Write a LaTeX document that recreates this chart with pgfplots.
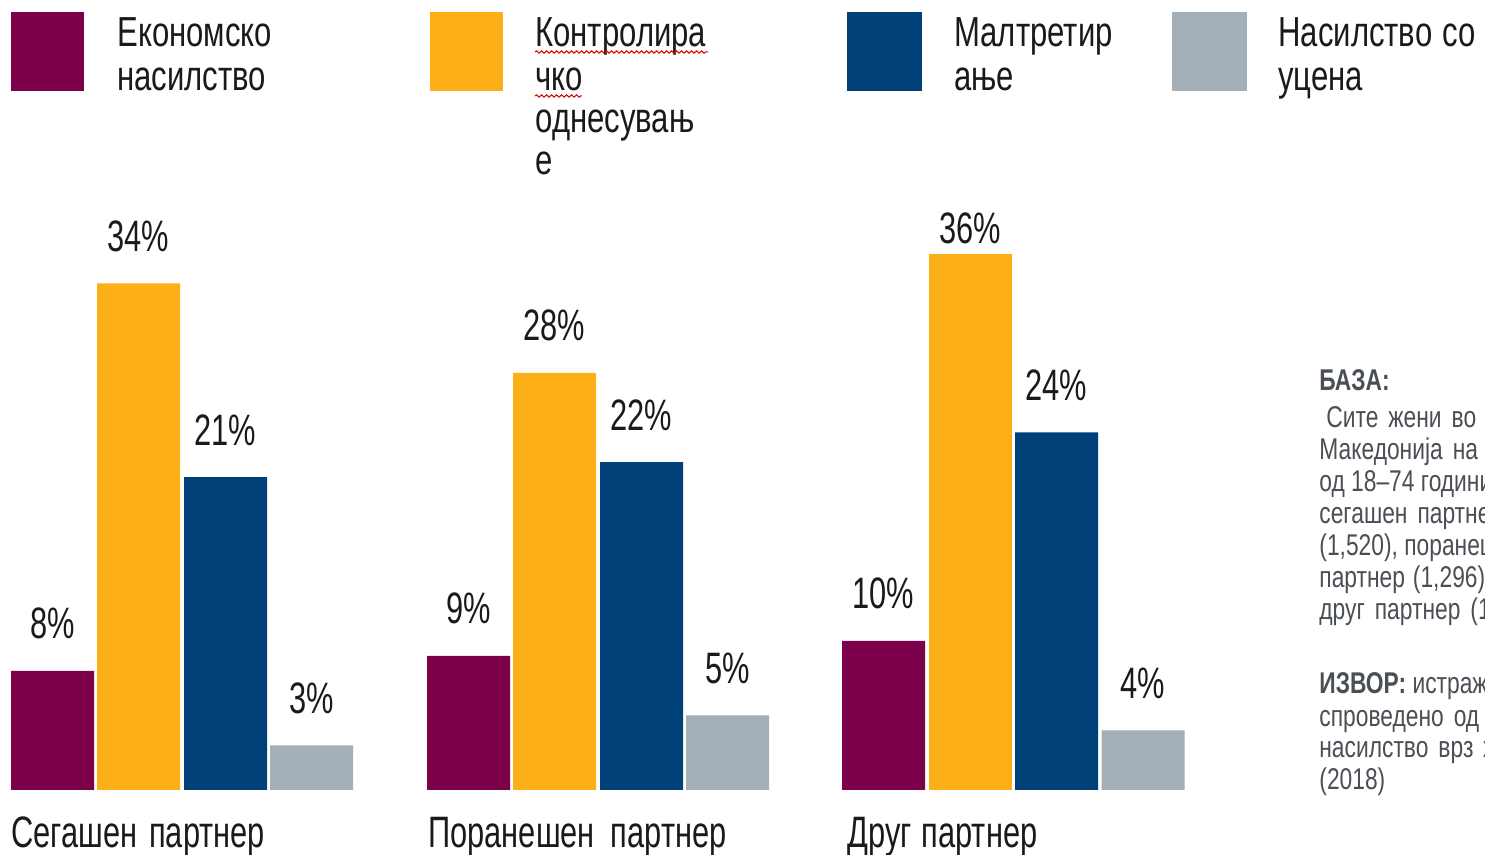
\documentclass[border=0pt]{standalone}
\usepackage{fontspec}
\setmainfont{Liberation Sans}[FakeStretch=0.7]
\newfontfamily\legfont{Liberation Sans}[FakeStretch=0.74]
\newfontfamily\sidefont{Liberation Sans}[FakeStretch=0.76]
\usepackage{pgfplots}
\pgfplotsset{compat=1.18}
\usetikzlibrary{decorations.pathmorphing}
\definecolor{econ}{HTML}{7D004A}
\definecolor{ctrl}{HTML}{FCAF17}
\definecolor{malt}{HTML}{00417A}
\definecolor{ucen}{HTML}{A5AFB7}
\definecolor{txt}{HTML}{1A1A1A}
\definecolor{side}{HTML}{4A4F55}
\begin{document}
\begin{tikzpicture}
\path[use as bounding box] (0,0) rectangle (742.5pt,-427.5pt);
\clip (0,0) rectangle (742.5pt,-427.5pt);
\begin{axis}[
  at={(0pt,-395pt)}, anchor=south west,
  scale only axis, width=742.5pt, height=372.5pt,
  xmin=0, xmax=1485, ymin=0, ymax=50,
  axis lines=none, clip=false,
  /pgf/number format/assume math mode=true,
  ybar, bar width=41.5pt, bar shift=0pt,
  nodes near coords={\pgfmathprintnumber{\pgfplotspointmeta}\%},
  every node near coord/.append style={font=\fontsize{22}{26}\selectfont, text=txt, anchor=base, yshift=16pt},
]
\addplot[fill=econ, draw=none] coordinates {(52.5,8) (468.5,9) (883.5,10)};
\addplot[fill=ctrl, draw=none] coordinates {(138.5,34) (554.5,28)};
\addplot[fill=ctrl, draw=none, every node near coord/.append style={yshift=-11pt}] coordinates {(970.5,36)};
\addplot[fill=malt, draw=none] coordinates {(225.5,21) (641.5,22) (1056.5,24)};
\addplot[fill=ucen, draw=none] coordinates {(311.5,3) (727.5,5) (1143,4)};
\end{axis}
\begin{scope}[x=0.5pt,y=-0.5pt]
  % legend boxes
  \fill[econ] (11,12) rectangle (84,91);
  \fill[ctrl] (430,12) rectangle (503,91);
  \fill[malt] (847,12) rectangle (922,91);
  \fill[ucen] (1172,12) rectangle (1247,91);
  \begin{scope}[every node/.style={anchor=base west, inner sep=0pt, text=txt, font=\legfont\fontsize{21}{25}\selectfont}]
    \node at (117,47) {Економско};
    \node at (117,91) {насилство};
    \node at (535,47) {Контролира};
    \node at (535,91) {чко};
    \node at (535,133) {однесувањ};
    \node at (535,175) {е};
    \node at (954,47) {Малтретир};
    \node at (954,91) {ање};
    \node at (1278,47) {Насилство\hspace{5pt}со};
    \node at (1278,91) {уцена};
  \end{scope}
  \draw[red!85!black, line width=0.5pt, decorate, decoration={snake, amplitude=0.6pt, segment length=2.5pt}] (535,52) -- (708,52);
  \draw[red!85!black, line width=0.5pt, decorate, decoration={snake, amplitude=0.6pt, segment length=2.5pt}] (535,96) -- (582,96);
  % category labels
  \begin{scope}[every node/.style={anchor=base west, inner sep=0pt, text=txt, font=\fontsize{22}{26}\selectfont}]
    \node at (11,848) {Сегашен\hspace{6pt}партнер};
    \node at (428,848) {Поранешен\hspace{8pt}партнер};
    \node at (847,848) {Друг\hspace{5pt}партнер};
  \end{scope}
  % side text
  \begin{scope}[every node/.style={anchor=base west, inner sep=0pt, text=side, font=\sidefont\fontsize{15}{16}\selectfont}]
    \node at (1319,391) {\bfseries БАЗА:};
    \node at (1326,428) {Сите\hspace{5pt}жени\hspace{5pt}во\hspace{5pt}Северна};
    \node at (1319,460) {Македонија\hspace{5pt}на\hspace{5pt}возраст};
    \node at (1319,492) {од 18–74 години со};
    \node at (1319,524) {сегашен\hspace{5pt}партнер};
    \node at (1319,556) {(1,520), поранешен};
    \node at (1319,588) {партнер\hspace{4pt}(1,296) и};
    \node at (1319,620) {друг\hspace{5pt}партнер\hspace{5pt}(1,180)};
    \node at (1319,694) {{\bfseries ИЗВОР:} истражување};
    \node at (1319,726) {спроведено\hspace{5pt}од\hspace{5pt}ОБСЕ};
    \node at (1319,758) {насилство\hspace{5pt}врз\hspace{5pt}жените};
    \node at (1319,790) {(2018)};
  \end{scope}
\end{scope}
\end{tikzpicture}
\end{document}
